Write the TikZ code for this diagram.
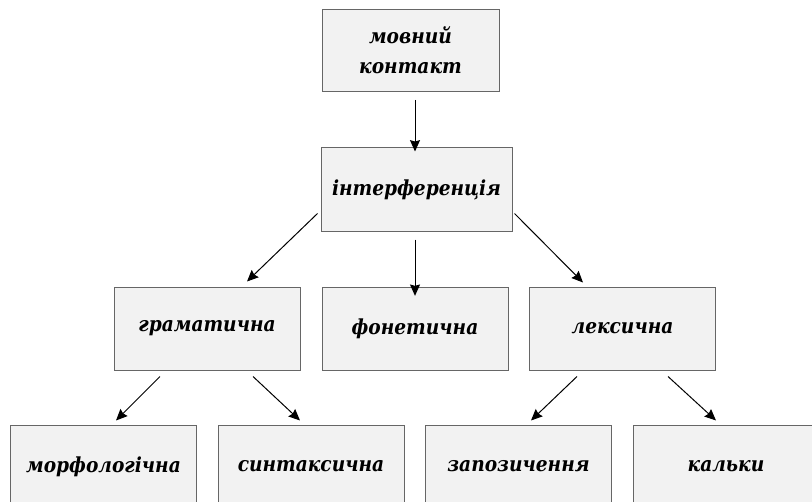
\documentclass[tikz,border=0pt]{standalone}
\usepackage{fontspec}
\setmainfont{DejaVu Serif Condensed}
\usetikzlibrary{arrows.meta}
\begin{document}
\begin{tikzpicture}[x=0.75pt,y=-0.75pt,
  box/.style={draw=black!60, line width=0.75pt, fill=black!5, inner sep=0pt,
    minimum width=139.5pt, minimum height=62.25pt, align=center,
    font=\fontsize{15.5}{22.5}\selectfont\bfseries\itshape},
  arr/.style={draw=black, line width=0.75pt, -{Stealth[length=8.5pt,width=7.5pt,inset=1pt]}}]
\useasboundingbox (0,0) rectangle (812,502);
\clip (0,0) rectangle (812,502);
\node[box, minimum width=132.75pt, minimum height=61.5pt] (b1) at (410.5,50.5) {мовний\\контакт};
\node[box, minimum width=143.25pt] (b2) at (416.5,189.5) {інтерференція};
\node[box] (gr) at (207,328.5) {граматична};
\node[box] (fon) at (415,328.5) {фонетична};
\node[box] (lex) at (622.5,328.5) {лексична};
\node[box] (mor) at (103.5,466.5) {морфологічна};
\node[box] (syn) at (311,466.5) {синтаксична};
\node[box] (zap) at (518.5,466.5) {запозичення};
\node[box] (kal) at (726,466.5) {кальки};
\draw[arr] ([yshift=-6]b1.south -| fon.north) -- ([yshift=-3]b2.north -| fon.north);
\draw[arr] ([yshift=-6]b2.south -| fon.north) -- ([yshift=-7]fon.north);
\draw[arr] ([shift={(-3,-18)}]b2.south west) -- ([shift={(40,-5)}]gr.north);
\draw[arr] ([shift={(2,-18)}]b2.south east) -- ([shift={(-39.5,-4)}]lex.north);
\draw[arr] ([shift={(-47,6)}]gr.south) -- ([shift={(12.5,-4)}]mor.north);
\draw[arr] ([shift={(46,6)}]gr.south) -- ([shift={(-11,-4)}]syn.north);
\draw[arr] ([shift={(-45.5,6)}]lex.south) -- ([shift={(12.5,-4)}]zap.north);
\draw[arr] ([shift={(45.5,6)}]lex.south) -- ([shift={(-10,-4)}]kal.north);
\end{tikzpicture}
\end{document}
